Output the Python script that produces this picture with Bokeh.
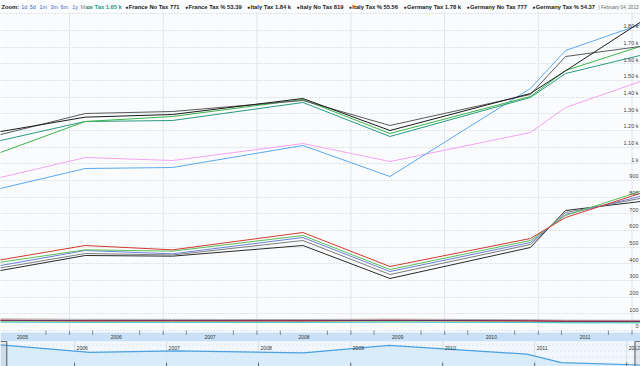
import pandas as pd
from bokeh.plotting import figure
from bokeh.layouts import column
from bokeh.models import Range1d, FixedTicker
from bokeh.core.properties import value
from bokeh.embed import file_html
from bokeh.resources import INLINE

# ------------------------------------------------------------------ data
dates = ["2005-03-13", "2006-03-03", "2007-02-06", "2008-06-28",
         "2009-06-02", "2010-12-01", "2011-04-17", "2012-02-25"]

# "Tax" group (upper)
france_tax = [1131, 1254, 1260, 1368, 1164, 1398, 1542, 1659]
italy_tax = [1187, 1280, 1296, 1392, 1200, 1422, 1558, 1872]
germany_tax = [843, 972, 978, 1110, 924, 1452, 1680, 1848]
spain_tax = [1166, 1302, 1314, 1380, 1230, 1416, 1644, 1709]
uk_tax = [1054, 1254, 1284, 1386, 1182, 1404, 1560, 1716]
sweden_tax = [909, 1038, 1020, 1122, 1014, 1188, 1338, 1506]

# "No Tax" group (middle)
italy_notax = [417, 510, 484, 588, 384, 552, 678, 834]
spain_notax = [404, 484, 476, 570, 366, 540, 690, 846]
uk_notax = [383, 480, 460, 558, 354, 528, 696, 813]
france_notax = [369, 462, 453, 540, 336, 516, 708, 799]
germany_notax = [353, 450, 446, 510, 312, 498, 720, 778]

# "Tax %" group (bottom)
france_pct = [60.1, 57.6, 58.1, 57.4, 59.9, 57.0, 54.2, 53.4]
italy_pct = [62.0, 59.5, 59.8, 59.2, 61.5, 58.4, 56.3, 55.6]
germany_pct = [61.0, 58.2, 58.6, 58.0, 60.8, 57.6, 55.1, 54.4]
spain_pct = [50.5, 49.0, 49.2, 48.6, 50.2, 48.0, 46.0, 45.5]
uk_pct = [52.5, 51.0, 51.2, 50.6, 52.4, 50.1, 49.0, 48.6]
sweden_pct = [69.5, 67.0, 66.5, 65.8, 68.0, 64.5, 61.8, 61.0]

ytick_values = [0, 100, 200, 300, 400, 500, 600, 700, 800, 900,
                1000, 1100, 1200, 1300, 1400, 1500, 1600, 1700, 1800]
ytick_labels = ["0", "100", "200", "300", "400", "500", "600", "700", "800", "900",
                "1 k", "1.10 k", "1.20 k", "1.30 k", "1.40 k", "1.50 k", "1.60 k",
                "1.70 k", "1.80 k"]
grid_values = ytick_values + [1900]

axis_years = [2005, 2006, 2007, 2008, 2009, 2010, 2011]
nav_years = [2006, 2007, 2008, 2009, 2010, 2011, 2012]

zoom_buttons = ["1d", "5d", "1m", "3m", "6m", "1y"]
legend_first = "ce Tax 1.65 k"
legend_names = ["France No Tax", "France Tax %", "Italy Tax", "Italy No Tax",
                "Italy Tax %", "Germany Tax", "Germany No Tax", "Germany Tax %"]
legend_values = ["771", "53.39", "1.84 k", "819", "55.56", "1.78 k", "777", "54.37"]
legend_date = "| February 04, 2013"

view_start, view_end = "2005-04-07", "2012-02-03"

# ------------------------------------------------------------------ styles / layout
BG = "#fafbfc"
FONT = value("Liberation Sans")
W = 640
H_LEG = 11
H_MAIN, H_BAND, H_NAV = 321, 9, 25
H_CHART = H_MAIN + H_BAND + H_NAV
Y_MIN, Y_MAX = -12, 1914
NAV_LO, NAV_HI = 52.9, 61.2

series = [
    (sweden_pct, "#a8a8a8"), (uk_pct, "#90c850"), (spain_pct, "#3fcbd6"),
    (france_pct, "#f2a13c"), (italy_pct, "#de3a36"), (germany_pct, "#6e2a6c"),
    (germany_notax, "#2a2a2a"), (france_notax, "#7c7c7c"), (uk_notax, "#6d82d8"),
    (spain_notax, "#5cbf5c"), (italy_notax, "#cf3b32"),
    (sweden_tax, "#f4a4f2"), (germany_tax, "#5aaaf0"), (france_tax, "#2a9a82"),
    (uk_tax, "#3bb54a"), (spain_tax, "#5a5a5a"), (italy_tax, "#1c1c1c"),
]


def ms(d):
    return pd.Timestamp(d).value / 1e6


xs = [ms(d) for d in dates]
v0, v1 = ms(view_start), ms(view_end)
year_ticks = [ms(f"{y}-01-01") for y in range(2006, 2013)]

common = dict(width=W, toolbar_location=None, output_backend="svg", min_border=0,
              x_axis_location=None, y_axis_location=None, outline_line_color=None,
              border_fill_color=BG, background_fill_color=BG)

# ------------------------------------------------------------------ legend strip
BOLD_W = {' ': .278, '.': .278, '%': .889, 'k': .556, 'F': .611, 'r': .389,
          'a': .556, 'n': .611, 'c': .556, 'e': .556, 'N': .722, 'o': .611,
          'T': .611, 'x': .556, 'I': .278, 't': .333, 'l': .278, 'y': .556,
          'G': .778, 'm': .889}


def text_w(s, size):
    return sum(BOLD_W.get(ch, .556) for ch in s) * size


LEG_FS = 5.8
leg_items = [f"{n} {v}" for n, v in zip(legend_names, legend_values)]
first_x = 86
bx = first_x + text_w(legend_first, LEG_FS) + 3
bullet_x, item_x = [], []
for it in leg_items:
    bullet_x.append(bx)
    item_x.append(bx + 3.5)
    bx = bx + 3.5 + text_w(it, LEG_FS) + 5.0

leg = figure(height=H_LEG, x_range=Range1d(0, W), y_range=Range1d(0, 1), **common)
leg.xgrid.visible = False
leg.ygrid.visible = False
ly = 0.5
tkw = dict(text_baseline="middle", text_align="left", text_font=FONT)
leg.text(x=[1], y=[ly], text=["Zoom:"], text_font_size="5.8px",
         text_font_style="bold", text_color="#222", **tkw)
leg.text(x=[20.7, 29.3, 39, 50, 60, 71.7], y=[ly] * 6, text=zoom_buttons,
         text_font_size="5.4px", text_color="#3a66c4", **tkw)
leg.text(x=[80], y=[ly], text=["Max"], text_font_size="5.4px",
         text_color="#8a8a8a", **tkw)
leg.text(x=[first_x], y=[ly], text=[legend_first], text_font_size=f"{LEG_FS}px",
         text_font_style="bold", text_color="#2a9a82", **tkw)
leg.text(x=bullet_x, y=[ly] * len(bullet_x), text=["\u25cf"] * len(bullet_x),
         text_font_size="5px", text_color="#222", **tkw)
leg.text(x=item_x, y=[ly] * len(item_x), text=leg_items,
         text_font_size=f"{LEG_FS}px", text_font_style="bold", text_color="#222", **tkw)
leg.text(x=[638], y=[ly], text=[legend_date], text_font_size="4.6px",
         text_color="#666", text_baseline="middle", text_align="right", text_font=FONT)

# ------------------------------------------------------------------ chart (main + band + navigator)
upp = (Y_MAX - Y_MIN) / H_MAIN                    # main units per pixel
y_lo = Y_MIN - (H_BAND + H_NAV) * upp
p = figure(height=H_CHART, x_range=Range1d(v0, v1), y_range=Range1d(y_lo, Y_MAX), **common)
p.xgrid.visible = False
p.ygrid.ticker = FixedTicker(ticks=grid_values)
p.ygrid.grid_line_color = "#c4ccd4"
p.ygrid.grid_line_dash = "1 2"

# navigator scales
nav_end = NAV_LO + (NAV_HI - NAV_LO) * H_CHART / H_NAV
p.extra_x_ranges = {"navx": Range1d(xs[0], xs[-1])}
p.extra_y_ranges = {"navy": Range1d(NAV_LO, nav_end)}
npp = (NAV_HI - NAV_LO) / H_NAV

# main year grid lines
p.segment(x0=year_ticks, y0=[Y_MIN] * 7, x1=year_ticks, y1=[Y_MAX] * 7,
          line_color="#dfe6ec", line_width=1)

for vals, col in series:
    p.line(xs, vals, line_color=col, line_width=1)

p.text(x=[v1] * len(ytick_values), y=[t + 4.3 * upp for t in ytick_values],
       text=ytick_labels, text_align="right", text_baseline="middle",
       x_offset=-2, text_font_size="5.5px", text_color="#444", text_font=FONT)

# x-axis band
p.quad(left=[v0], right=[v1], bottom=[Y_MIN - H_BAND * upp], top=[Y_MIN],
       fill_color="#c8e1f6", line_color=None)
p.text(x=[ms(f"{y}-07-02") for y in axis_years],
       y=[Y_MIN - H_BAND / 2 * upp] * len(axis_years),
       text=[str(y) for y in axis_years], text_align="center",
       text_baseline="middle", text_font_size="5px", text_color="#333", text_font=FONT)
qticks = [ms(f"{y}-{m:02d}-01") for y in range(2005, 2013) for m in (1, 4, 10)]
qticks = [q for q in qticks if v0 < q < v1]
p.segment(x0=qticks, y0=[Y_MIN + 2 * upp] * len(qticks), x1=qticks,
          y1=[Y_MIN - 2.5 * upp] * len(qticks), line_color="#7f8b98", line_width=1)

# navigator
nk = dict(x_range_name="navx", y_range_name="navy")
p.quad(left=[xs[0]], right=[xs[-1]], bottom=[NAV_LO], top=[NAV_HI],
       fill_color="#f1f7fc", line_color=None, **nk)
for gy in [54, 56, 58, 60]:
    p.segment(x0=[xs[0]], y0=[gy], x1=[xs[-1]], y1=[gy], line_color="#c9d8e5",
              line_dash="1 3", line_width=1, **nk)
p.segment(x0=year_ticks, y0=[NAV_LO] * 7, x1=year_ticks, y1=[NAV_HI] * 7,
          line_color="#d2dde7", line_width=1, **nk)
p.varea(x=xs, y1=[NAV_LO] * len(xs), y2=france_pct, fill_color="#d6eaf9",
        fill_alpha=0.9, **nk)
p.line(xs, france_pct, line_color="#4aa0e0", line_width=1.2, **nk)
p.text(x=year_ticks, y=[NAV_HI - 6 * npp] * len(year_ticks),
       text=[str(y) for y in nav_years], text_align="left", text_baseline="middle",
       x_offset=2, text_font_size="5.1px", text_color="#333", text_font=FONT, **nk)
p.segment(x0=year_ticks, y0=[NAV_LO] * 7, x1=year_ticks, y1=[NAV_LO + 4 * npp] * 7,
          line_color="#666", line_width=1, **nk)
p.quad(left=[xs[0], v1], right=[v0, xs[-1]], bottom=[NAV_LO] * 2, top=[NAV_HI] * 2,
       fill_color="#8090a0", fill_alpha=0.15, line_color=None, **nk)
p.segment(x0=[v0, v1], y0=[NAV_LO] * 2, x1=[v0, v1], y1=[NAV_HI] * 2,
          line_color="#555", line_width=1, **nk)
p.segment(x0=[xs[0], v1], y0=[NAV_HI] * 2, x1=[v0, xs[-1]], y1=[NAV_HI] * 2,
          line_color="#777", line_width=1, **nk)

layout = column(leg, p, spacing=0)

open("out.html", "w").write(file_html(layout, INLINE))
